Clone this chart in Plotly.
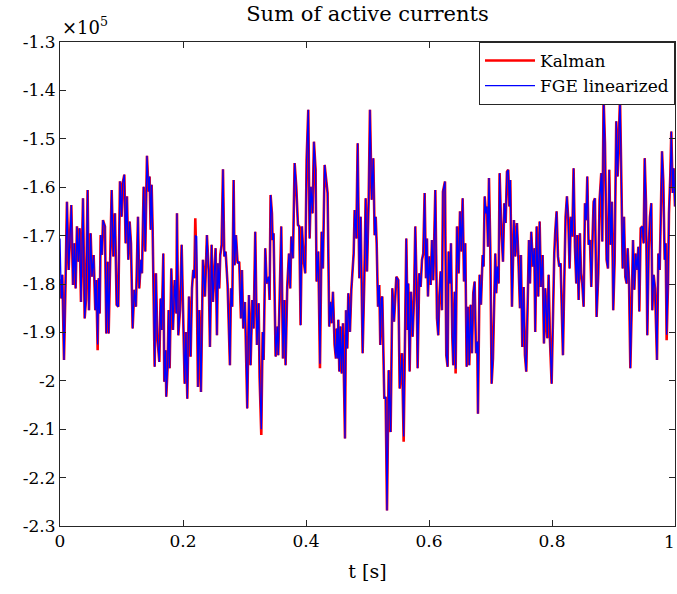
import plotly.graph_objects as go

# time samples [s]
t_s = [
    0.0000, 0.0021, 0.0038, 0.0065, 0.0086, 0.0113, 0.0141, 0.0157, 0.0184, 0.0211,
    0.0233, 0.0254, 0.0276, 0.0298, 0.0319, 0.0341, 0.0374, 0.0401, 0.0422, 0.0449,
    0.0471, 0.0498, 0.0520, 0.0547, 0.0574, 0.0590, 0.0612, 0.0628, 0.0645, 0.0661,
    0.0683, 0.0699, 0.0731, 0.0753, 0.0775, 0.0791, 0.0818, 0.0840, 0.0867, 0.0894,
    0.0921, 0.0948, 0.0975, 0.1002, 0.1019, 0.1046, 0.1067, 0.1089,
    0.1111, 0.1132, 0.1154, 0.1181, 0.1208, 0.1235, 0.1268, 0.1289, 0.1316, 0.1333,
    0.1360, 0.1387, 0.1414, 0.1441, 0.1457, 0.1474, 0.1490, 0.1506, 0.1539, 0.1560,
    0.1582, 0.1615, 0.1636, 0.1653, 0.1680, 0.1696, 0.1718, 0.1728, 0.1750, 0.1766,
    0.1783, 0.1810, 0.1837, 0.1864, 0.1891, 0.1902, 0.1924, 0.1951, 0.1978, 0.2000,
    0.2027, 0.2048, 0.2070, 0.2097, 0.2124, 0.2146, 0.2167, 0.2184, 0.2200, 0.2222,
    0.2243,
    0.2265, 0.2292, 0.2324, 0.2357, 0.2389, 0.2417, 0.2438, 0.2465, 0.2487, 0.2509,
    0.2530, 0.2552, 0.2568, 0.2590, 0.2606, 0.2628, 0.2650, 0.2671, 0.2693, 0.2725,
    0.2763, 0.2780, 0.2801, 0.2823, 0.2839, 0.2861, 0.2888, 0.2915, 0.2942, 0.2959,
    0.2980, 0.3007, 0.3045, 0.3072, 0.3099, 0.3127, 0.3148, 0.3175, 0.3202, 0.3230,
    0.3246, 0.3273, 0.3295, 0.3311, 0.3338, 0.3360,
    0.3392, 0.3408, 0.3424, 0.3446, 0.3457, 0.3473, 0.3490, 0.3506, 0.3533, 0.3549,
    0.3571, 0.3598, 0.3625, 0.3647, 0.3668, 0.3695, 0.3723, 0.3744, 0.3761, 0.3788,
    0.3815, 0.3842, 0.3869, 0.3891, 0.3912, 0.3934, 0.3961, 0.3988, 0.4010, 0.4037,
    0.4059, 0.4080, 0.4107, 0.4129, 0.4156, 0.4172, 0.4200, 0.4227, 0.4254, 0.4275,
    0.4303, 0.4324, 0.4351, 0.4378, 0.4400, 0.4416, 0.4438, 0.4465, 0.4487, 0.4500,
    0.4515, 0.4526, 0.4542, 0.4558, 0.4580, 0.4601, 0.4618, 0.4634, 0.4650, 0.4672,
    0.4688, 0.4715, 0.4737, 0.4759, 0.4775, 0.4791, 0.4818, 0.4840, 0.4867, 0.4889,
    0.4921, 0.4948, 0.4970, 0.4992, 0.5019, 0.5040, 0.5068, 0.5095, 0.5116, 0.5133,
    0.5149, 0.5171, 0.5192, 0.5208, 0.5225, 0.5241, 0.5273, 0.5295, 0.5317, 0.5344,
    0.5376, 0.5404, 0.5431, 0.5469, 0.5501, 0.5523, 0.5561, 0.5588, 0.5610, 0.5631,
    0.5653,
    0.5664, 0.5685, 0.5707, 0.5734, 0.5756, 0.5777, 0.5799, 0.5815, 0.5842, 0.5864,
    0.5886, 0.5907, 0.5929, 0.5951, 0.5967, 0.5983, 0.6005, 0.6027, 0.6048, 0.6070,
    0.6103, 0.6130, 0.6151, 0.6168, 0.6189, 0.6211, 0.6227, 0.6260, 0.6281, 0.6303,
    0.6319, 0.6341, 0.6357, 0.6379, 0.6395, 0.6417, 0.6433, 0.6455, 0.6482, 0.6504,
    0.6525, 0.6547, 0.6569, 0.6590, 0.6612, 0.6634, 0.6655, 0.6677, 0.6699, 0.6720,
    0.6742, 0.6764, 0.6785, 0.6796,
    0.6812, 0.6823, 0.6845, 0.6872, 0.6888, 0.6905, 0.6926, 0.6942, 0.6959, 0.6975,
    0.6997, 0.7018, 0.7040, 0.7056, 0.7078, 0.7094, 0.7110, 0.7132, 0.7148, 0.7170,
    0.7186, 0.7203, 0.7224, 0.7246, 0.7268, 0.7289, 0.7306, 0.7322, 0.7349, 0.7381,
    0.7403, 0.7430, 0.7452, 0.7479, 0.7495, 0.7517, 0.7539, 0.7560, 0.7582, 0.7604,
    0.7625, 0.7642, 0.7663, 0.7690, 0.7712, 0.7728, 0.7750, 0.7777, 0.7799, 0.7820,
    0.7848, 0.7869, 0.7891, 0.7913,
    0.7923, 0.7945, 0.7967, 0.7994, 0.8015, 0.8037, 0.8053, 0.8075, 0.8097, 0.8118,
    0.8140, 0.8156, 0.8178, 0.8200, 0.8221, 0.8243, 0.8265, 0.8286, 0.8308, 0.8330,
    0.8351, 0.8373, 0.8395, 0.8411, 0.8433, 0.8454, 0.8471, 0.8492, 0.8514, 0.8536,
    0.8557, 0.8574, 0.8595, 0.8617, 0.8639, 0.8660, 0.8677, 0.8698, 0.8725, 0.8753,
    0.8774, 0.8801, 0.8818, 0.8839, 0.8861, 0.8888, 0.8910, 0.8931, 0.8953, 0.8975,
    0.8996, 0.9018, 0.9045, 0.9067,
    0.9106, 0.9127, 0.9149, 0.9171, 0.9192, 0.9214, 0.9230, 0.9252, 0.9274, 0.9295,
    0.9317, 0.9339, 0.9360, 0.9382, 0.9404, 0.9420, 0.9442, 0.9469, 0.9490, 0.9507,
    0.9528, 0.9550, 0.9572, 0.9593, 0.9615, 0.9631, 0.9653, 0.9675, 0.9691, 0.9707,
    0.9729, 0.9751, 0.9772, 0.9789, 0.9810, 0.9832, 0.9848, 0.9864, 0.9886, 0.9902,
    0.9924, 0.9940, 0.9962, 0.9978, 1.0000,
]

# Kalman estimate, in units of 1e5
kalman_e5 = [
    -1.790, -1.830, -1.781, -1.957, -1.826, -1.630, -1.771, -1.716, -1.637, -1.802,
    -1.716, -1.809, -1.681, -1.754, -1.685, -1.837, -1.623, -1.871, -1.833, -1.606,
    -1.854, -1.695, -1.785, -1.740, -1.854, -1.792, -1.937, -1.788, -1.861, -1.699,
    -1.740, -1.668, -1.681, -1.902, -1.754, -1.902, -1.737, -1.606, -1.743, -1.654,
    -1.843, -1.847, -1.588, -1.661, -1.592, -1.574, -1.716, -1.619,
    -1.750, -1.671, -1.716, -1.892, -1.812, -1.847, -1.661, -1.809, -1.750, -1.778,
    -1.599, -1.733, -1.535, -1.609, -1.578, -1.688, -1.595, -1.685, -1.971, -1.778,
    -1.909, -1.961, -1.830, -1.895, -1.737, -2.002, -1.937, -2.033, -1.971, -1.854,
    -1.974, -1.768, -1.895, -1.792, -1.861, -1.654, -1.906, -1.854, -1.719, -1.868,
    -2.006, -1.899, -2.037, -1.826, -1.950, -1.809, -1.771, -1.788, -1.664, -1.778,
    -2.013,
    -1.854, -2.023, -1.750, -1.826, -1.699, -1.771, -1.930, -1.719, -1.837, -1.792,
    -1.726, -1.906, -1.757, -1.809, -1.740, -1.719, -1.563, -1.743, -1.733, -1.802,
    -1.968, -1.809, -1.847, -1.585, -1.761, -1.699, -1.757, -1.754, -1.871, -1.771,
    -1.892, -1.837, -2.057, -1.823, -1.968, -1.833, -1.892, -1.692, -1.926, -1.840,
    -1.995, -2.112, -1.899, -1.957, -1.726, -1.799,
    -1.785, -1.833, -1.616, -1.654, -1.709, -1.695, -1.840, -1.950, -1.888, -1.947,
    -1.830, -1.681, -1.954, -1.833, -1.968, -1.806, -1.737, -1.809, -1.702, -1.747,
    -1.550, -1.599, -1.678, -1.681, -1.885, -1.681, -1.750, -1.778, -1.543, -1.440,
    -1.706, -1.599, -1.654, -1.506, -1.564, -1.795, -1.733, -1.974, -1.692, -1.768,
    -1.554, -1.578, -1.612, -1.888, -1.837, -1.881, -1.816, -1.926, -1.954, -1.892,
    -1.954, -1.874, -1.981, -1.888, -1.985, -1.881, -1.971, -2.119, -1.854, -1.933,
    -1.819, -1.899, -1.812, -1.761, -1.737, -1.647, -1.706, -1.509, -1.788, -1.661,
    -1.943, -1.792, -1.623, -1.774, -1.626, -1.440, -1.626, -1.540, -1.699, -1.661,
    -1.716, -1.847, -1.802, -1.926, -1.830, -1.826, -2.037, -2.033, -2.268, -1.978,
    -2.106, -1.809, -1.878, -1.785, -1.792, -2.016, -1.943, -2.126, -1.899, -1.706,
    -1.895,
    -1.799, -1.981, -1.816, -1.909, -1.833, -1.681, -1.809, -1.974, -1.778, -1.806,
    -1.750, -1.737, -1.612, -1.788, -1.706, -1.826, -1.743, -1.802, -1.709, -1.792,
    -1.606, -1.871, -1.906, -1.826, -1.774, -1.854, -1.609, -1.588, -1.947, -1.971,
    -1.733, -1.799, -1.716, -1.909, -1.968, -1.816, -1.985, -1.681, -1.778, -1.650,
    -1.733, -1.623, -1.795, -1.716, -1.971, -1.847, -1.968, -1.843, -1.943, -1.819,
    -1.795, -1.943, -1.919, -2.068,
    -1.916, -1.781, -1.843, -1.740, -1.764, -1.619, -1.654, -1.640, -1.723, -1.581,
    -1.726, -2.006, -1.954, -1.833, -1.737, -1.819, -1.764, -1.799, -1.571, -1.668,
    -1.699, -1.754, -1.633, -1.674, -1.568, -1.564, -1.640, -1.585, -1.847, -1.668,
    -1.743, -1.674, -1.743, -1.850, -1.740, -1.930, -1.806, -1.947, -1.981, -1.816,
    -1.709, -1.799, -1.692, -1.764, -1.726, -1.899, -1.681, -1.826, -1.671, -1.806,
    -1.740, -1.923, -1.809, -1.892,
    -1.912, -1.781, -1.916, -2.006, -1.833, -1.737, -1.692, -1.650, -1.743, -1.764,
    -1.757, -1.833, -1.947, -1.792, -1.661, -1.619, -1.668, -1.768, -1.661, -1.702,
    -1.561, -1.723, -1.799, -1.699, -1.833, -1.695, -1.778, -1.799, -1.847, -1.633,
    -1.668, -1.578, -1.719, -1.709, -1.806, -1.702, -1.630, -1.623, -1.868, -1.778,
    -1.626, -1.571, -1.712, -1.416, -1.509, -1.750, -1.768, -1.564, -1.719, -1.630,
    -1.854, -1.754, -1.464, -1.578,
    -1.416, -1.578, -1.768, -1.661, -1.785, -1.799, -1.726, -1.792, -1.974, -1.854,
    -1.709, -1.812, -1.737, -1.771, -1.723, -1.857, -1.685, -1.681, -1.716, -1.540,
    -1.630, -1.906, -1.730, -1.661, -1.633, -1.854, -1.781, -1.809, -1.892, -1.957,
    -1.737, -1.771, -1.640, -1.526, -1.588, -1.750, -1.716, -1.916, -1.802, -1.654,
    -1.574, -1.485, -1.612, -1.561, -1.640,
]

# FGE linearized follows Kalman except at these samples (t -> value, units of 1e5)
fge_diff_t = [0.0000, 0.0612, 0.2200, 0.2222, 0.3273, 0.4227, 0.5588, 0.6433, 0.7913, 0.9864]
fge_diff_e5 = [-1.706, -1.925, -1.700, -1.702, -2.100, -1.965, -2.115, -1.975, -1.870, -1.905]

y_tick_vals_e5 = [-1.3, -1.4, -1.5, -1.6, -1.7, -1.8, -1.9, -2.0, -2.1, -2.2, -2.3]
y_tick_text = ["-1.3", "-1.4", "-1.5", "-1.6", "-1.7", "-1.8", "-1.9", "-2", "-2.1", "-2.2", "-2.3"]
x_tick_vals = [0, 0.2, 0.4, 0.6, 0.8, 1]
x_tick_text = ["0", "0.2", "0.4", "0.6", "0.8", "1"]

SCALE = 1e5
fge_e5 = list(kalman_e5)
for tt, vv in zip(fge_diff_t, fge_diff_e5):
    fge_e5[t_s.index(tt)] = vv

kalman = [v * SCALE for v in kalman_e5]
fge = [v * SCALE for v in fge_e5]

FONT = "DejaVu Serif"
AX = "#262626"

# the last x tick label sits on the page edge: draw it as an annotation kept inside
x_axis_text = list(x_tick_text)
last_label = x_axis_text[-1]
x_axis_text[-1] = ""

fig = go.Figure()
fig.add_trace(go.Scatter(x=t_s, y=kalman, mode="lines", name="Kalman",
                         line=dict(color="rgb(255,0,0)", width=2.6)))
fig.add_trace(go.Scatter(x=t_s, y=fge, mode="lines", name="FGE linearized",
                         line=dict(color="rgb(0,0,255)", width=1.3)))

fig.update_layout(
    width=677, height=594, autosize=False,
    margin=dict(l=60, r=2, t=42, b=68),
    paper_bgcolor="white", plot_bgcolor="white",
    font=dict(family=FONT, size=17, color="black"),
    title=dict(text="Sum of active currents", x=0.5, xref="paper",
               y=1 - 14 / 594, yref="container", yanchor="middle",
               font=dict(family=FONT, size=21, color="black")),
    showlegend=True,
    legend=dict(x=1, y=1, xanchor="right", yanchor="top",
                bgcolor="white", bordercolor=AX, borderwidth=1,
                font=dict(family=FONT, size=17, color="black"),
                tracegroupgap=0, itemwidth=50),
    xaxis=dict(range=[0, 1], tickvals=x_tick_vals, ticktext=x_axis_text,
               showline=True, linecolor=AX, linewidth=1, mirror="ticks",
               ticks="inside", ticklen=6, tickcolor=AX, showgrid=False,
               zeroline=False, tickfont=dict(size=17),
               automargin=False,
               title=dict(text="t [s]", font=dict(size=19), standoff=14)),
    yaxis=dict(range=[-2.3 * SCALE, -1.3 * SCALE],
               tickvals=[v * SCALE for v in y_tick_vals_e5], ticktext=y_tick_text,
               showline=True, linecolor=AX, linewidth=1, mirror="ticks",
               ticks="inside", ticklen=6, tickcolor=AX, showgrid=False,
               zeroline=False, tickfont=dict(size=17), ticklabeloverflow="allow",
               automargin=False),
)

fig.add_annotation(text=last_label, xref="x", yref="paper",
                   x=x_tick_vals[-1], y=0, xanchor="right", yanchor="top",
                   xshift=2, yshift=-4, showarrow=False,
                   font=dict(family=FONT, size=17, color="black"))

fig.add_annotation(text="×10<sup>5</sup>", xref="paper", yref="paper",
                   x=0, y=1, xanchor="left", yanchor="bottom", yshift=2,
                   showarrow=False, font=dict(family=FONT, size=18, color="black"))

fig.write_html("out.html")
